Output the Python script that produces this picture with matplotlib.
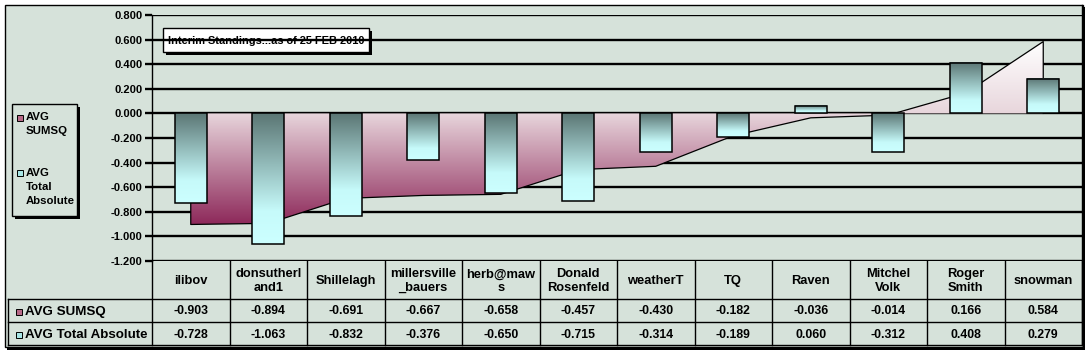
import numpy as np
import matplotlib
matplotlib.use('Agg')
import matplotlib.pyplot as plt
from matplotlib.colors import LinearSegmentedColormap
from matplotlib.patches import Rectangle

# ---------------- data ----------------
names = ['ilibov', 'donsutherl\nand1', 'Shillelagh', 'millersville\n_bauers', 'herb@maw\ns',
         'Donald\nRosenfeld', 'weatherT', 'TQ', 'Raven', 'Mitchel\nVolk', 'Roger\nSmith', 'snowman']
avg_sumsq = [-0.903, -0.894, -0.691, -0.667, -0.658, -0.457, -0.430, -0.182, -0.036, -0.014, 0.166, 0.584]
avg_total_abs = [-0.728, -1.063, -0.832, -0.376, -0.650, -0.715, -0.314, -0.189, 0.060, -0.312, 0.408, 0.279]
series_names = ['AVG SUMSQ', 'AVG Total Absolute']
legend_labels = ['AVG\nSUMSQ', 'AVG\nTotal\nAbsolute']
title_text = 'Interim Standings...as of 25 FEB 2010'
yticks = [-1.2, -1.0, -0.8, -0.6, -0.4, -0.2, 0.0, 0.2, 0.4, 0.6, 0.8]

# ---------------- style ----------------
BG = '#d6e2da'
FONT = ['Liberation Sans', 'DejaVu Sans']
plt.rcParams['font.family'] = FONT

W, H = 1087, 352
fig = plt.figure(figsize=(W / 100, H / 100), dpi=100, facecolor='white')

bg = fig.add_axes([0, 0, 1, 1])
bg.set_xlim(0, W)
bg.set_ylim(H, 0)
bg.axis('off')

# chart border + background
bg.add_patch(Rectangle((7, 7), 1078, 343, facecolor='#000000', edgecolor='none', zorder=0))
bg.add_patch(Rectangle((5, 5), 1078, 342, facecolor=BG, edgecolor='black', lw=1.0, zorder=1))

PL, PR, PT, PB = 152, 1082, 15, 261
ax = fig.add_axes([PL / W, 1 - PB / H, (PR - PL) / W, (PB - PT) / H])
ax.set_zorder(3)
ax.patch.set_alpha(0)

n = len(names)
xs = np.arange(n)

# gridlines
for t in yticks:
    ax.axhline(t, color='black', lw=1.7, zorder=0.5)

# area series with vertical gradient
lo, hi = min(avg_sumsq + [0]), max(avg_sumsq + [0])
p0 = (0 - lo) / (hi - lo)
area_cmap = LinearSegmentedColormap.from_list(
    'area', [(0.0, '#8e2a5b'), (p0, '#e8d6dc'), (1.0, '#ffffff')])
poly = ax.fill_between(xs, avg_sumsq, 0, facecolor='none', edgecolor='none', zorder=1)
grad = np.linspace(hi, lo, 300).reshape(-1, 1)
im = ax.imshow(grad, extent=[xs[0], xs[-1], lo, hi], origin='upper', aspect='auto',
               cmap=area_cmap, vmin=lo, vmax=hi, zorder=1, interpolation='bilinear')
im.set_clip_path(poly.get_paths()[0], transform=ax.transData)
ax.plot(np.r_[xs[0], xs, xs[-1]], np.r_[0, avg_sumsq, 0], color='black', lw=0.9, zorder=1.5)

# bar series with gradient
bar_cmap = LinearSegmentedColormap.from_list(
    'bar', [(0.0, '#5b7674'), (0.75, '#c6fafa'), (1.0, '#ccffff')])
bw = 0.41
bgrad = np.linspace(0, 1, 200).reshape(-1, 1)
for i, v in enumerate(avg_total_abs):
    x0, x1 = i - bw / 2, i + bw / 2
    y0, y1 = min(0, v), max(0, v)
    ax.imshow(bgrad, extent=[x0, x1, y0, y1], origin='upper', aspect='auto',
              cmap=bar_cmap, vmin=0, vmax=1, zorder=2, interpolation='bilinear')
    ax.add_patch(Rectangle((x0, y0), bw, y1 - y0, facecolor='none', edgecolor='black', lw=1.1, zorder=2.5))

ax.set_xlim(-0.5, n - 0.5)
ax.set_ylim(yticks[0], yticks[-1])
ax.set_yticks(yticks)
ax.set_yticklabels([f'{t:.3f}' for t in yticks], fontweight='bold', fontsize=8)
ax.set_xticks([])
for s in ['top', 'right', 'bottom']:
    ax.spines[s].set_visible(False)
ax.spines['left'].set_linewidth(1.0)
ax.tick_params(axis='y', length=5, width=1.7, direction='out', pad=2)

# ---------------- data table ----------------
cw = (PR - PL) / n
rows = [261, 299, 322, 345]
for yy in rows[1:]:
    bg.plot([8, PR], [yy, yy], color='black', lw=1.0, zorder=4)
bg.plot([8, 8], [rows[1], rows[3]], color='black', lw=1.0, zorder=4)
for k in range(n + 1):
    bg.plot([PL + k * cw] * 2, [rows[0], rows[3]], color='black', lw=1.0, zorder=4)
bg.plot([PR, PR], [5, rows[3]], color='black', lw=1.0, zorder=4)

for i in range(n):
    cx = PL + (i + 0.5) * cw
    bg.text(cx, (rows[0] + rows[1]) / 2 + 1, names[i], ha='center', va='center',
            fontsize=9.3, fontweight='bold', linespacing=1.15, zorder=5)
    bg.text(cx, (rows[1] + rows[2]) / 2 + 1, f'{avg_sumsq[i]:.3f}', ha='center', va='center',
            fontsize=8.8, fontweight='bold', zorder=5)
    bg.text(cx, (rows[2] + rows[3]) / 2 + 1, f'{avg_total_abs[i]:.3f}', ha='center', va='center',
            fontsize=8.8, fontweight='bold', zorder=5)

key_colors = ['#b86a88', '#a8e6e6']
for j, nm in enumerate(series_names):
    yc = (rows[1 + j] + rows[2 + j]) / 2 + 1
    bg.add_patch(Rectangle((16, yc - 3), 6, 6, facecolor=key_colors[j], edgecolor='black', lw=0.7, zorder=5))
    bg.text(25, yc, nm, ha='left', va='center', fontsize=9.6, fontweight='bold', zorder=5)

# ---------------- legend ----------------
bg.add_patch(Rectangle((15, 107), 65, 112, facecolor='black', edgecolor='none', zorder=4))
bg.add_patch(Rectangle((12, 104), 65, 112, facecolor=BG, edgecolor='black', lw=1.0, zorder=4.2))
leg_y = [112, 167]
for j, lab in enumerate(legend_labels):
    bg.add_patch(Rectangle((17, leg_y[j] + 3), 6, 6, facecolor=key_colors[j], edgecolor='black',
                           lw=0.7, zorder=5))
    bg.text(26, leg_y[j] + 0.5, lab, ha='left', va='top', fontsize=8.2, fontweight='bold',
            linespacing=1.5, zorder=5)

# ---------------- title box ----------------
bg.add_patch(Rectangle((166, 31), 206, 24, facecolor='black', edgecolor='none', zorder=6))
bg.add_patch(Rectangle((163, 28), 206, 24, facecolor='white', edgecolor='black', lw=1.0, zorder=6.2))
bg.text(266, 40.5, title_text, ha='center', va='center', fontsize=7.9, fontweight='bold', zorder=7)

fig.savefig('out.png', dpi=100, facecolor='white')
